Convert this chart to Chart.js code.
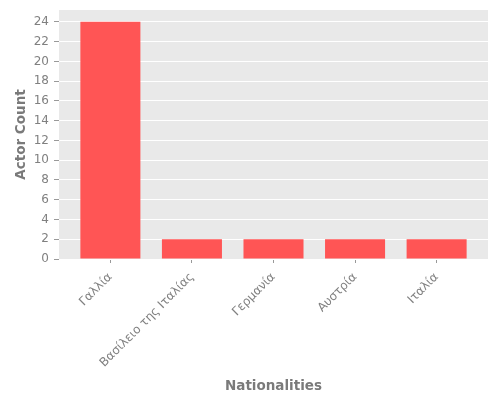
<!DOCTYPE html>
<html>
<head>
<meta charset="utf-8">
<script src="https://cdn.jsdelivr.net/npm/chart.js@4"></script>
<style>
  html, body { margin: 0; padding: 0; background: #fff; }
  #wrap { width: 500px; height: 400px; }
</style>
</head>
<body>
<div id="wrap"><canvas id="barChart" width="500" height="400"></canvas></div>
<script>
const nationalities = ['Γαλλία', 'Βασίλειο της Ιταλίας', 'Γερμανία', 'Αυστρία', 'Ιταλία'];
const actorCounts = [24, 2, 2, 2, 2];
const yTicks = [0, 2, 4, 6, 8, 10, 12, 14, 16, 18, 20, 22, 24];

// grey panel behind the plot, ggplot style
const panelBg = {
  id: 'panelBg',
  beforeDraw(chart) {
    const a = chart.chartArea;
    const c = chart.ctx;
    c.save();
    c.fillStyle = '#e9e9e9';
    c.fillRect(a.left, a.top, a.right - a.left, a.bottom - a.top);
    c.restore();
  }
};

const ctx = document.getElementById('barChart').getContext('2d');
const chart = new Chart(ctx, {
  type: 'bar',
  data: {
    datasets: [{
      data: nationalities.map((n, i) => ({ x: i, y: actorCounts[i] })),
      backgroundColor: '#ff5555',
      borderWidth: 0,
      categoryPercentage: 0.8,
      barPercentage: 0.92
    }]
  },
  options: {
    responsive: false,
    animation: false,
    layout: { padding: { top: 10, right: 12, left: 0, bottom: 0 } },
    plugins: { legend: { display: false }, tooltip: { enabled: false } },
    scales: {
      x: {
        type: 'linear',
        offset: false,
        min: -0.63,
        max: 4.63,
        afterBuildTicks: axis => { axis.ticks = nationalities.map((n, i) => ({ value: i })); },
        afterFit: axis => { axis.height = 141; },
        border: { display: false },
        grid: { drawOnChartArea: false, offset: false, tickColor: '#999', tickLength: 4 },
        ticks: {
          callback: v => nationalities[v],
          minRotation: 45,
          maxRotation: 45,
          color: '#808080',
          font: { family: 'DejaVu Sans', size: 12 },
          padding: 7
        },
        title: {
          display: true,
          text: 'Nationalities',
          color: '#7a7a7a',
          font: { family: 'DejaVu Sans', size: 13.5, weight: 'bold' },
          padding: { top: 0, bottom: 5 }
        }
      },
      y: {
        min: 0,
        max: 25.2,
        afterBuildTicks: axis => { axis.ticks = yTicks.map(v => ({ value: v })); },
        afterFit: axis => {
          axis.width = 59;
          axis.paddingTop = 0;
          axis.paddingBottom = 0;
        },
        border: { display: false },
        grid: { color: '#ffffff', lineWidth: 1, tickColor: '#999', tickLength: 5 },
        ticks: {
          color: '#808080',
          font: { family: 'DejaVu Sans', size: 12 },
          padding: 5
        },
        title: {
          display: true,
          text: 'Actor Count',
          color: '#7a7a7a',
          font: { family: 'DejaVu Sans', size: 13.5, weight: 'bold' },
          padding: { top: 13, bottom: 0 }
        }
      }
    }
  },
  plugins: [panelBg]
});
</script>
</body>
</html>
